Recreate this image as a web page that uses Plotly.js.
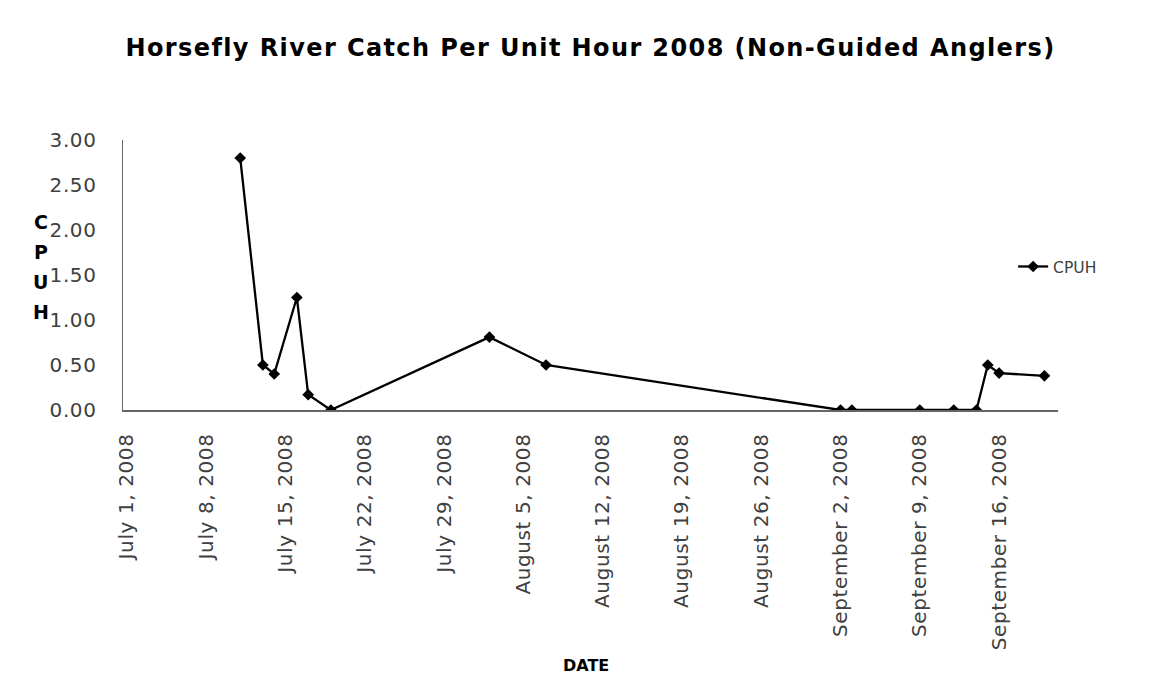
<!DOCTYPE html>
<html>
<head>
<meta charset="utf-8">
<script src="https://cdn.plot.ly/plotly-3.0.1.min.js"></script>
<style>
html,body{margin:0;padding:0;background:#fff;}
#chart{width:1171px;height:679px;}
#chart .gtitle{letter-spacing:1.4px;}
#chart .xtick text,#chart .ytick text{letter-spacing:0.6px;}
</style>
</head>
<body>
<div id="chart"></div>
<script>
const dates = ["2008-07-11","2008-07-13","2008-07-14","2008-07-16","2008-07-17","2008-07-19",
  "2008-08-02","2008-08-07","2008-09-02","2008-09-03","2008-09-09","2008-09-12","2008-09-14",
  "2008-09-15","2008-09-16","2008-09-20"];
const cpuh = [2.80,0.50,0.40,1.25,0.17,0.00,0.81,0.50,0.00,0.00,0.00,0.00,0.00,0.50,0.41,0.38];
const tickDates = ["2008-07-01","2008-07-08","2008-07-15","2008-07-22","2008-07-29","2008-08-05",
  "2008-08-12","2008-08-19","2008-08-26","2008-09-02","2008-09-09","2008-09-16"];
const tickLabels = ["July 1, 2008","July 8, 2008","July 15, 2008","July 22, 2008","July 29, 2008",
  "August 5, 2008","August 12, 2008","August 19, 2008","August 26, 2008","September 2, 2008",
  "September 9, 2008","September 16, 2008"];
const yTicks = [0,0.5,1,1.5,2,2.5,3];
const yTitleLetters = ["C","P","U","H"];

const FONT = "'DejaVu Sans', sans-serif";
const trace = {
  x: dates, y: cpuh, type: "scatter", mode: "lines+markers", name: "CPUH",
  line: {color: "#000", width: 2.3},
  marker: {symbol: "diamond", size: 9, color: "#000"}
};
const annotations = yTitleLetters.map((ch, i) => ({
  text: "<b>" + ch + "</b>", xref: "paper", yref: "paper",
  x: -0.088, y: (410 - (222 + i * 30)) / 270, xanchor: "center", yanchor: "middle",
  showarrow: false, font: {family: FONT, size: 19, color: "#000"}
}));
annotations.push({text: "<b>DATE</b>", xref: "paper", yref: "paper", x: 0.495, y: -0.945,
  xanchor: "center", yanchor: "middle", showarrow: false, font: {family: FONT, size: 16, color: "#000"}});

const layout = {
  width: 1171, height: 679,
  margin: {l: 123, r: 113, t: 140, b: 269},
  paper_bgcolor: "#fff", plot_bgcolor: "#fff",
  font: {family: FONT, color: "#404040", size: 19},
  title: {text: "<b>Horsefly River Catch Per Unit Hour 2008 (Non-Guided Anglers)</b>",
    font: {family: FONT, size: 24, color: "#000"}, x: 0.5, xref: "paper", y: 0.93, yanchor: "middle"},
  xaxis: {
    type: "date", range: ["2008-06-30 15:36", "2008-09-21 04:48"],
    tickmode: "array", tickvals: tickDates, ticktext: tickLabels, tickangle: -90,
    showgrid: false, zeroline: false, showline: true, linecolor: "#666", linewidth: 1.5,
    ticks: "", ticklabelstandoff: 14, tickfont: {family: FONT, size: 20, color: "#404040"},
    fixedrange: true
  },
  yaxis: {
    range: [0, 3], tickmode: "array", tickvals: yTicks, tickformat: ".2f",
    showgrid: false, zeroline: false, showline: true, linecolor: "#666", linewidth: 1.5,
    ticks: "", ticklabelstandoff: 21, tickfont: {family: FONT, size: 20, color: "#404040"},
    fixedrange: true
  },
  showlegend: true,
  legend: {x: 0.952, y: 0.53, xanchor: "left", yanchor: "middle", bgcolor: "rgba(0,0,0,0)",
    font: {family: FONT, size: 15.5, color: "#404040"}, itemwidth: 30},
  annotations: annotations
};
Plotly.newPlot("chart", [trace], layout, {displayModeBar: false, staticPlot: true});
</script>
</body>
</html>
